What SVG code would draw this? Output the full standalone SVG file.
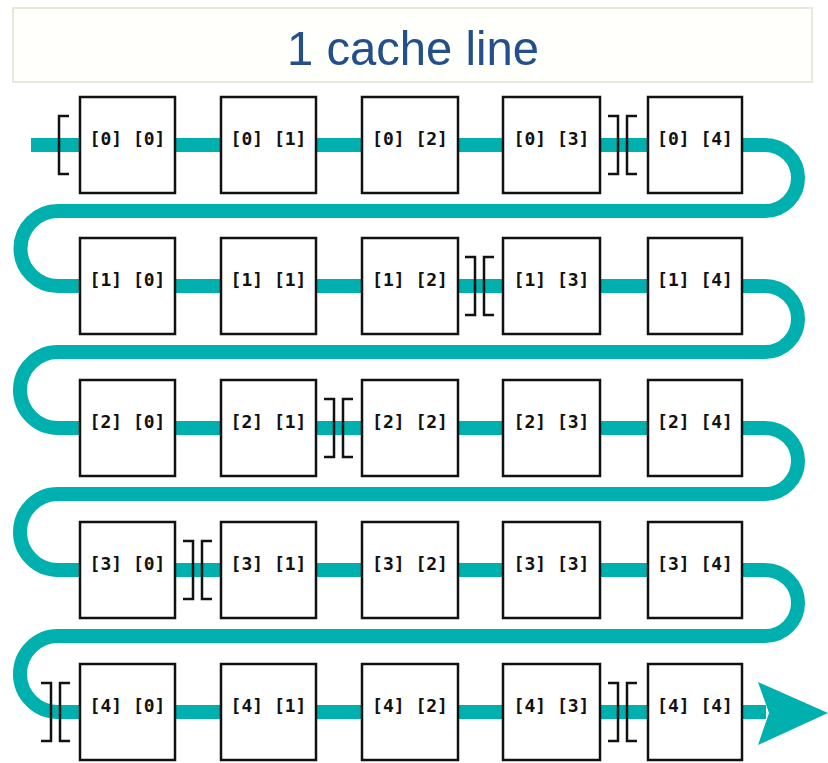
<svg xmlns="http://www.w3.org/2000/svg" width="828" height="763" viewBox="0 0 828 763">
<style>
.flow{fill:none;stroke:#00b0ae;stroke-width:14;stroke-linejoin:round}
.head{fill:#00b0ae}
.box{fill:#fff;stroke:#111;stroke-width:2.5}
.lbl{font-family:"DejaVu Sans Mono","Liberation Mono",monospace;font-weight:bold;font-size:18px;fill:#111;text-anchor:middle}
.brk{fill:none;stroke:#111;stroke-width:2.5}
.title{font-family:"Liberation Sans",Arial,sans-serif;font-size:49px;fill:#234f8a;text-anchor:middle}
</style>
<rect width="828" height="763" fill="#fff"/>
<g id="title">
<rect x="13" y="8" width="799" height="74" fill="#fffffc" stroke="#ebe7da" stroke-width="2"/>
<text class="title" x="413" y="65" textLength="252" lengthAdjust="spacingAndGlyphs">1 cache line</text>
</g>
<g id="connectors">
<path class="flow" d="M31,145 H765 A33,33 0 0 1 765,211 H58 A37.5,37.5 0 0 0 58,286 H765 A33,33 0 0 1 765,352 H58 A38,38 0 0 0 58,428 H765 A33,33 0 0 1 765,494 H58 A38,38 0 0 0 58,570 H765 A33,33 0 0 1 765,636 H58 A38,38 0 0 0 58,712 H766"/>
<polygon class="head" points="758,682 828,713 758,745 769,713"/>
</g>
<g id="n00"><rect class="box" x="80" y="97" width="95" height="96"/><text class="lbl" x="127.5" y="145">[0] [0]</text></g>
<g id="n01"><rect class="box" x="221" y="97" width="95" height="96"/><text class="lbl" x="268.5" y="145">[0] [1]</text></g>
<g id="n02"><rect class="box" x="362" y="97" width="96" height="96"/><text class="lbl" x="410" y="145">[0] [2]</text></g>
<g id="n03"><rect class="box" x="503" y="97" width="97" height="96"/><text class="lbl" x="551.5" y="145">[0] [3]</text></g>
<g id="n04"><rect class="box" x="648" y="97" width="94" height="96"/><text class="lbl" x="695" y="145">[0] [4]</text></g>
<g id="n10"><rect class="box" x="80" y="238" width="95" height="96"/><text class="lbl" x="127.5" y="286">[1] [0]</text></g>
<g id="n11"><rect class="box" x="221" y="238" width="95" height="96"/><text class="lbl" x="268.5" y="286">[1] [1]</text></g>
<g id="n12"><rect class="box" x="362" y="238" width="96" height="96"/><text class="lbl" x="410" y="286">[1] [2]</text></g>
<g id="n13"><rect class="box" x="503" y="238" width="97" height="96"/><text class="lbl" x="551.5" y="286">[1] [3]</text></g>
<g id="n14"><rect class="box" x="648" y="238" width="94" height="96"/><text class="lbl" x="695" y="286">[1] [4]</text></g>
<g id="n20"><rect class="box" x="80" y="380" width="95" height="96"/><text class="lbl" x="127.5" y="428">[2] [0]</text></g>
<g id="n21"><rect class="box" x="221" y="380" width="95" height="96"/><text class="lbl" x="268.5" y="428">[2] [1]</text></g>
<g id="n22"><rect class="box" x="362" y="380" width="96" height="96"/><text class="lbl" x="410" y="428">[2] [2]</text></g>
<g id="n23"><rect class="box" x="503" y="380" width="97" height="96"/><text class="lbl" x="551.5" y="428">[2] [3]</text></g>
<g id="n24"><rect class="box" x="648" y="380" width="94" height="96"/><text class="lbl" x="695" y="428">[2] [4]</text></g>
<g id="n30"><rect class="box" x="80" y="522" width="95" height="96"/><text class="lbl" x="127.5" y="570">[3] [0]</text></g>
<g id="n31"><rect class="box" x="221" y="522" width="95" height="96"/><text class="lbl" x="268.5" y="570">[3] [1]</text></g>
<g id="n32"><rect class="box" x="362" y="522" width="96" height="96"/><text class="lbl" x="410" y="570">[3] [2]</text></g>
<g id="n33"><rect class="box" x="503" y="522" width="97" height="96"/><text class="lbl" x="551.5" y="570">[3] [3]</text></g>
<g id="n34"><rect class="box" x="648" y="522" width="94" height="96"/><text class="lbl" x="695" y="570">[3] [4]</text></g>
<g id="n40"><rect class="box" x="80" y="664" width="95" height="96"/><text class="lbl" x="127.5" y="712">[4] [0]</text></g>
<g id="n41"><rect class="box" x="221" y="664" width="95" height="96"/><text class="lbl" x="268.5" y="712">[4] [1]</text></g>
<g id="n42"><rect class="box" x="362" y="664" width="96" height="96"/><text class="lbl" x="410" y="712">[4] [2]</text></g>
<g id="n43"><rect class="box" x="503" y="664" width="97" height="96"/><text class="lbl" x="551.5" y="712">[4] [3]</text></g>
<g id="n44"><rect class="box" x="648" y="664" width="94" height="96"/><text class="lbl" x="695" y="712">[4] [4]</text></g>
<g id="boundaries">
<path class="brk" d="M69,116 H59 V174 H69"/>
<path class="brk" d="M608,116 H618 V174 H608 M637,116 H627 V174 H637"/>
<path class="brk" d="M465,257 H475 V315 H465 M494,257 H484 V315 H494"/>
<path class="brk" d="M324,399 H334 V457 H324 M353,399 H343 V457 H353"/>
<path class="brk" d="M183,541 H193 V599 H183 M212,541 H202 V599 H212"/>
<path class="brk" d="M41,683 H51 V741 H41 M70,683 H60 V741 H70"/>
<path class="brk" d="M608,683 H618 V741 H608 M637,683 H627 V741 H637"/>
</g>
</svg>
